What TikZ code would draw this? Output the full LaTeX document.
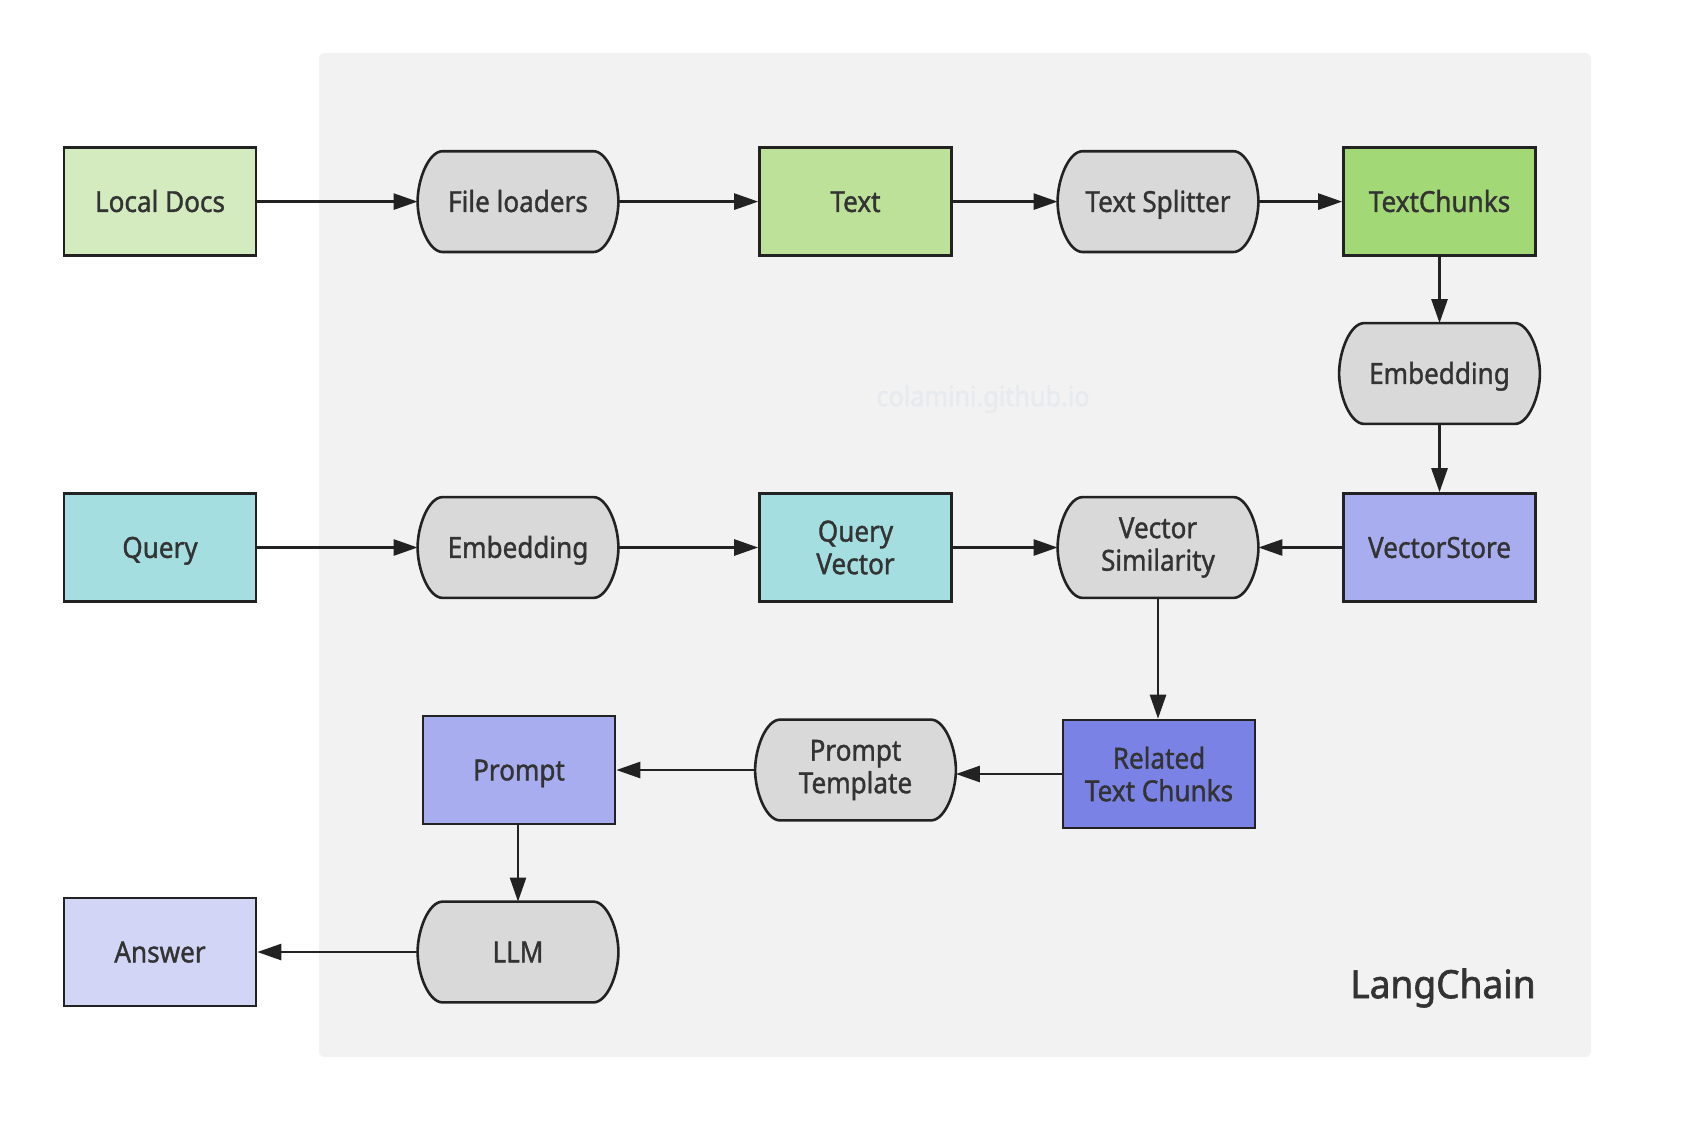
\documentclass[tikz,border=0pt]{standalone}
\usepackage{fontspec}
\setmainfont[FakeStretch=0.9,FakeBold=1.2]{Noto Sans}
\newfontfamily\lcfont[FakeStretch=0.95,FakeBold=1.5]{Noto Sans}
\usetikzlibrary{arrows.meta,calc}
\definecolor{txt}{HTML}{333333}
\definecolor{edge}{HTML}{222222}
\definecolor{panel}{HTML}{F2F2F2}
\definecolor{pillc}{HTML}{D9D9D9}
\definecolor{cLocal}{HTML}{D3EBBE}
\definecolor{cText}{HTML}{BDE198}
\definecolor{cChunks}{HTML}{A3D876}
\definecolor{cQuery}{HTML}{A5DEE1}
\definecolor{cStore}{HTML}{A8ADEF}
\definecolor{cRelated}{HTML}{7B82E6}
\definecolor{cAnswer}{HTML}{D3D5F7}
\definecolor{wmark}{HTML}{E7EAEE}
\pgfdeclarelayer{back}
\pgfdeclarelayer{mid}
\pgfsetlayers{back,mid,main}
\tikzset{
  basefont/.style={font=\fontsize{14.5}{16.3}\selectfont, text=txt, align=center},
  oneline/.style={text height=10.35pt, text depth=0pt},
  boxnode/.style={basefont, draw=edge, line width=1.3pt, minimum width=96pt, minimum height=54pt, inner sep=0pt},
  pillnode/.style={basefont, minimum width=100pt, minimum height=50pt, inner sep=0pt},
  pillpath/.style={draw=edge, fill=pillc, line width=1.3pt},
  conn/.style={draw=edge, line width=1.3pt, -{Triangle[length=12pt,width=8pt]}},
}
\newcommand\pillshape[1]{%
\begin{pgfonlayer}{mid}
\path[pillpath] ([xshift=12.5pt]#1.north west) -- ([xshift=-12.5pt]#1.north east)
 .. controls ([xshift=-5.6pt]#1.north east) and ([yshift=11.2pt]#1.east) .. (#1.east)
 .. controls ([yshift=-11.2pt]#1.east) and ([xshift=-5.6pt]#1.south east) .. ([xshift=-12.5pt]#1.south east)
 -- ([xshift=12.5pt]#1.south west)
 .. controls ([xshift=5.6pt]#1.south west) and ([yshift=-11.2pt]#1.west) .. (#1.west)
 .. controls ([yshift=11.2pt]#1.west) and ([xshift=5.6pt]#1.north west) .. cycle;
\end{pgfonlayer}}
\begin{document}
\begin{tikzpicture}[x=1pt,y=-1pt]
\useasboundingbox (0,0) rectangle (850,560);
\begin{pgfonlayer}{back}
\fill[white] (0,0) rectangle (850,560);
\fill[panel, rounded corners=3pt] (159.5,26.5) rectangle (795.5,528.5);
\end{pgfonlayer}
\node[font=\fontsize{14}{16}\selectfont, text=wmark] (wm) at (491.5,199.5) {colamini.github.io};
% row 1
\node[boxnode, oneline, fill=cLocal] (local) at (80,100.8) {Local Docs};
\node[pillnode, oneline] (loaders) at (259,100.8) {File loaders}; \pillshape{loaders}
\node[boxnode, oneline, fill=cText] (text) at (427.75,100.8) {Text};
\node[pillnode, oneline] (splitter) at (579,100.8) {Text Splitter}; \pillshape{splitter}
\node[boxnode, oneline, fill=cChunks] (chunks) at (719.75,100.8) {TextChunks};
\node[pillnode, oneline] (emb1) at (719.75,186.75) {Embedding}; \pillshape{emb1}
% row 2
\node[boxnode, oneline, fill=cQuery] (query) at (80,273.75) {Query};
\node[pillnode, oneline] (emb2) at (259,273.75) {Embedding}; \pillshape{emb2}
\node[boxnode, fill=cQuery] (qvec) at (427.75,273.75) {Query\\Vector};
\node[pillnode] (vsim) at (579,273.75) {Vector\\Similarity}; \pillshape{vsim}
\node[boxnode, oneline, fill=cStore] (store) at (719.75,273.75) {VectorStore};
% row 3
\node[boxnode, oneline, fill=cStore] (prompt) at (259.5,385) {Prompt};
\node[pillnode] (ptpl) at (427.75,385) {Prompt\\Template}; \pillshape{ptpl}
\node[boxnode, fill=cRelated] (related) at (579.5,387) {Related\\Text Chunks};
% row 4
\node[boxnode, oneline, fill=cAnswer] (answer) at (80,476) {Answer};
\node[pillnode, oneline] (llm) at (259,476) {LLM}; \pillshape{llm}
\node[font=\lcfont\fontsize{19.5}{23}\selectfont, text=txt] (lc) at (721.5,494) {LangChain};
% connectors
\draw[conn] (local) -- (loaders);
\draw[conn] (loaders) -- (text);
\draw[conn] (text) -- (splitter);
\draw[conn] (splitter) -- (chunks);
\draw[conn] (chunks) -- (emb1);
\draw[conn] (emb1) -- (store);
\draw[conn] (query) -- (emb2);
\draw[conn] (emb2) -- (qvec);
\draw[conn] (qvec) -- (vsim);
\draw[conn] (store) -- (vsim);
\draw[conn] (vsim.south) -- (vsim.south |- related.north);
\draw[conn] (related.west) -- (related.west -| ptpl.east);
\draw[conn] (ptpl.west) -- (ptpl.west -| prompt.east);
\draw[conn] (prompt.south -| llm.north) -- (llm.north);
\draw[conn] (llm) -- (answer);
\end{tikzpicture}
\end{document}
